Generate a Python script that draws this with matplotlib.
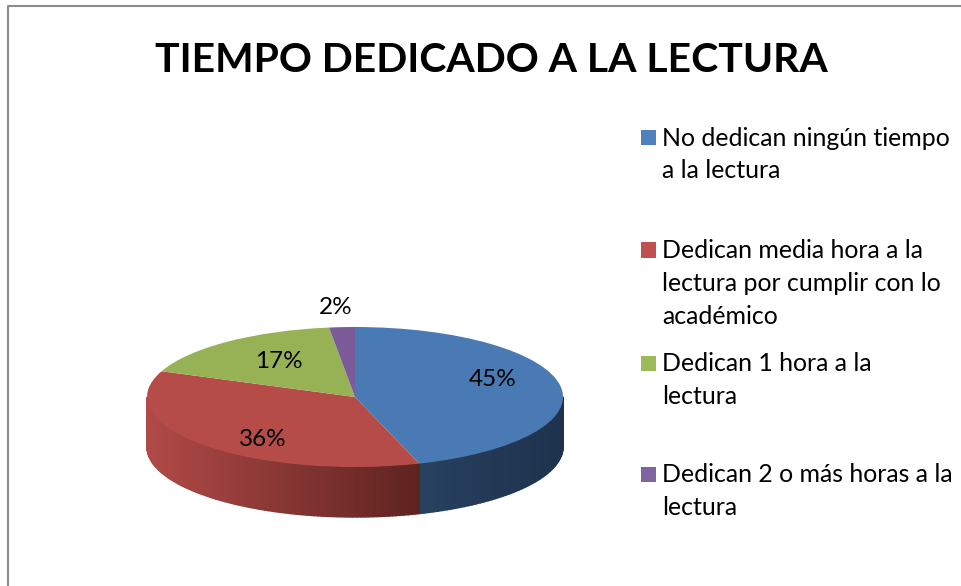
import numpy as np
import matplotlib
matplotlib.use('Agg')
from matplotlib import pyplot as plt
from matplotlib.colors import to_rgb
from matplotlib.patches import Rectangle

title = 'TIEMPO DEDICADO A LA LECTURA'
labels = ['No dedican ningún tiempo\na la lectura',
          'Dedican media hora a la\nlectura por cumplir con lo\nacadémico',
          'Dedican 1 hora a la\nlectura',
          'Dedican 2 o más horas a la\nlectura']
values = [45, 36, 17, 2]
pct_labels = ['45%', '36%', '17%', '2%']
colors = ['#4a7ab4', '#b64c48', '#96b255', '#7b5c98']
legend_colors = ['#4f81bd', '#c0504d', '#9bbb59', '#8064a2']
# wall colours at the left and right end of each slice
wall_left = ['#27415f', '#b04a47', '#96b255', '#7b5c98']
wall_right = ['#1e324d', '#5e2320', '#96b255', '#7b5c98']

W, H = 961, 586
plt.rcParams['font.family'] = ['Lato', 'DejaVu Sans']
fig = plt.figure(figsize=(W / 100, H / 100), dpi=100)

# background in pixel coords, y down
bg = fig.add_axes([0, 0, 1, 1])
bg.set_xlim(0, W)
bg.set_ylim(H, 0)
bg.axis('off')
bg.plot([7.5, 7.5, W + 5], [H + 5, 6, 6], color='#8c8c8c', lw=1.5)

bg.text(491, 60, title, fontsize=29.4, fontweight='bold', ha='center', va='center', color='black')

cx, cy, rx, ry, depth = 355, 397, 208, 70, 50
ax = fig.add_axes([(cx - rx) / W, 1 - (cy + ry) / H, 2 * rx / W, 2 * ry / H])
d = depth / ry

# side wall first, from the same angles as the top
angles = 90 - np.cumsum([0] + values) * 3.6
for i in range(len(values)):
    a1, a2 = angles[i], angles[i + 1]
    steps = np.linspace(a1, a2, 120)
    visible = [(s0, s1) for s0, s1 in zip(steps[:-1], steps[1:])
               if np.sin(np.radians((s0 + s1) / 2)) < 0]
    if not visible:
        continue
    xs = np.cos(np.radians(np.array(visible)))
    xmin, xmax = xs.min(), xs.max()
    for s0, s1 in visible:
        x0, x1 = np.cos(np.radians([s0, s1]))
        y0, y1 = np.sin(np.radians([s0, s1]))
        t = ((x0 + x1) / 2 - xmin) / (xmax - xmin)
        c = np.array(to_rgb(wall_left[i])) * (1 - t) + np.array(to_rgb(wall_right[i])) * t
        ax.fill([x0, x1, x1, x0], [y0, y1, y1 - d, y0 - d], facecolor=c, edgecolor=c,
                lw=1.0, clip_on=False)

ax.pie(values, colors=colors, startangle=90, counterclock=False, radius=1)
ax.set_aspect('auto')
ax.set_xlim(-1, 1)
ax.set_ylim(-1, 1)
ax.axis('off')

# data labels in pixel coords
pct_pos = [(493, 380), (263, 440), (279, 362), (336, 308)]
for txt, p in zip(pct_labels, pct_pos):
    fig.text(p[0] / W, 1 - p[1] / H, txt, fontsize=17.5, ha='center', va='center', color='black')

# legend
leg_y = [137.5, 250, 363, 474]
for lab, c, y in zip(labels, legend_colors, leg_y):
    fig.add_artist(Rectangle((641 / W, 1 - (y + 7.5) / H), 15 / W, 15 / H, facecolor=c,
                             edgecolor='none', transform=fig.transFigure))
    for n, line in enumerate(lab.split('\n')):
        fig.text(662 / W, 1 - (y + 8 + n * 33) / H, line, fontsize=17.9, ha='left', va='baseline',
                 color='black')

fig.savefig('out.png', dpi=100)
